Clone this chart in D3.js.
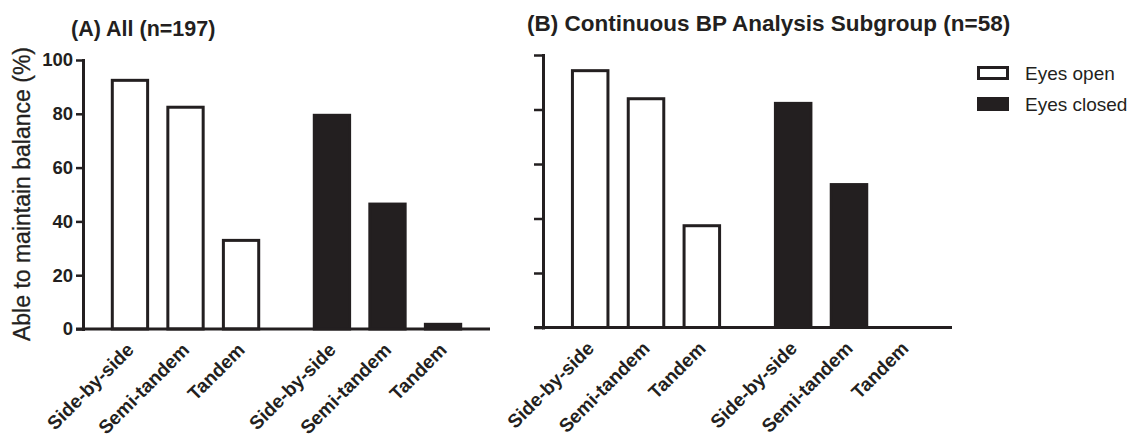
<!DOCTYPE html>
<html>
<head>
<meta charset="utf-8">
<script src="https://cdn.jsdelivr.net/npm/d3@7"></script>
<style>
  html, body { margin: 0; padding: 0; background: #fff; }
  svg { display: block; font-family: "Liberation Sans", Arial, sans-serif; }
</style>
</head>
<body>
<svg id="chart" width="1136" height="440"></svg>
<script>
// ---- data ----
const conditions = ["Side-by-side", "Semi-tandem", "Tandem"];
const groups = ["Eyes open", "Eyes closed"];
const allOpen = [93, 83, 33.5];
const allClosed = [80, 47, 2.3];
const subOpen = [94.8, 84.5, 37.9];
const subClosed = [82.8, 53, 0];
const yTicks = [0, 20, 40, 60, 80, 100];
const titleA = "(A) All (n=197)";
const titleB = "(B) Continuous BP Analysis Subgroup (n=58)";
const yLabel = "Able to maintain balance (%)";

const ink = "#231f20";
const svg = d3.select("#chart");

const panels = [
  { title: titleA, open: allOpen, closed: allClosed, left: 83, top: 60, bottom: 329, len: 407, tick: 7, labels: true, tx: 71, ty: 36, tsize: 21.5 },
  { title: titleB, open: subOpen, closed: subClosed, left: 543, top: 55, bottom: 327.5, len: 409, tick: 9, labels: false, tx: 527, ty: 31, tsize: 22.5 }
];

panels.forEach(p => {
  const g = svg.append("g");
  const y = d3.scaleLinear().domain([0, 100]).range([p.bottom, p.top]);
  const outer = d3.scaleBand().domain(groups).range([p.left, p.left + p.len]).paddingInner(0.175).paddingOuter(0.095);
  const inner = d3.scaleBand().domain(conditions).range([0, outer.bandwidth()]).paddingInner(0.31).paddingOuter(0.155);

  const rows = [];
  groups.forEach((grp, gi) => {
    const vals = gi === 0 ? p.open : p.closed;
    conditions.forEach((c, ci) => rows.push({ grp, c, v: vals[ci] }));
  });

  // bars
  g.selectAll("rect.bar").data(rows.filter(d => d.v > 0)).join("rect")
    .attr("class", "bar")
    .attr("x", d => outer(d.grp) + inner(d.c) + 1.5)
    .attr("width", inner.bandwidth() - 3)
    .attr("y", d => y(d.v) + 1.5)
    .attr("height", d => Math.max(0, y(0) - y(d.v) - 1.5))
    .attr("fill", d => d.grp === "Eyes open" ? "#fff" : ink)
    .attr("stroke", ink)
    .attr("stroke-width", 3);

  // y axis
  const ya = g.append("g").attr("transform", `translate(${p.left},0)`)
    .call(d3.axisLeft(y).tickValues(yTicks).tickSize(p.tick).tickSizeOuter(0).tickPadding(3));
  ya.select(".domain").attr("stroke", ink).attr("stroke-width", 3).attr("stroke-linecap", "square");
  ya.selectAll(".tick line").attr("stroke", ink).attr("stroke-width", 2.5);
  ya.selectAll(".tick text")
    .attr("fill", ink).attr("font-size", 18.5).attr("font-weight", "bold")
    .attr("font-family", "'Liberation Sans', Arial, sans-serif")
    .style("display", p.labels ? null : "none");

  // x axis line
  g.append("line")
    .attr("x1", p.left - p.tick).attr("x2", outer.range()[1])
    .attr("y1", y(0)).attr("y2", y(0))
    .attr("stroke", ink).attr("stroke-width", 3);

  // x labels
  g.selectAll("text.xl").data(rows).join("text")
    .attr("class", "xl")
    .attr("transform", d => `translate(${outer(d.grp) + inner(d.c) + inner.bandwidth() / 2 + 5},${y(0) + 22}) rotate(-45)`)
    .attr("text-anchor", "end")
    .attr("font-size", 19).attr("font-weight", "bold")
    .attr("fill", ink)
    .text(d => d.c);

  // title
  g.append("text").attr("x", p.tx).attr("y", p.ty)
    .attr("font-size", p.tsize).attr("font-weight", "bold").attr("fill", ink)
    .text(p.title);
});

// y axis label
svg.append("text")
  .attr("transform", "translate(30,194) rotate(-90)")
  .attr("text-anchor", "middle")
  .attr("font-size", 23)
  .attr("fill", ink)
  .attr("stroke", ink).attr("stroke-width", 0.3)
  .text(yLabel);

// legend
const leg = svg.append("g");
const legY = d3.scalePoint().domain(groups).range([73, 104]);
leg.selectAll("rect").data(groups).join("rect")
  .attr("x", 978.5).attr("y", d => legY(d) - 5.5)
  .attr("width", 29).attr("height", 11)
  .attr("fill", d => d === "Eyes open" ? "#fff" : ink)
  .attr("stroke", ink).attr("stroke-width", 3);
leg.selectAll("text").data(groups).join("text")
  .attr("x", 1025).attr("y", d => legY(d) + 7)
  .attr("font-size", 19).attr("fill", ink)
  .text(d => d);
</script>
</body>
</html>
